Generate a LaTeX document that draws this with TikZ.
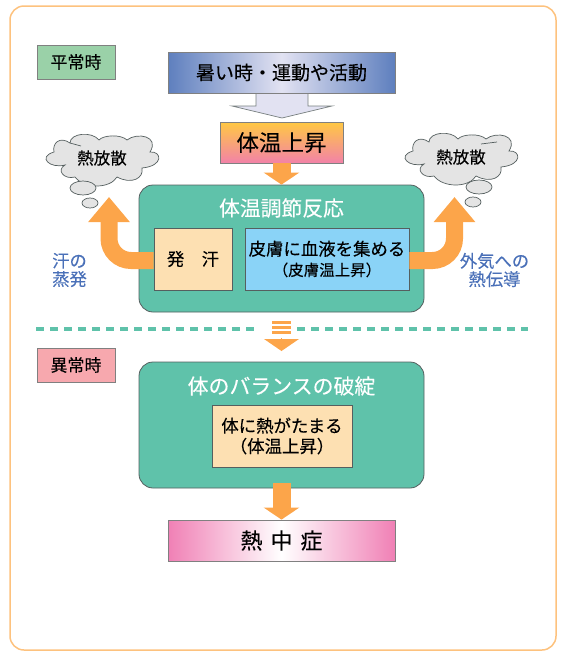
\documentclass[tikz,border=0pt]{standalone}
\usepackage{fontspec}
\setmainfont[FakeBold=0.2]{Noto Sans CJK JP}
\usetikzlibrary{arrows.meta,shapes.geometric}
\definecolor{framec}{HTML}{FDC27E}
\definecolor{panelc}{HTML}{5FC2AA}
\definecolor{creamc}{HTML}{FDE0B2}
\definecolor{skyc}{HTML}{8AD3F7}
\definecolor{flowc}{HTML}{FCA54A}
\definecolor{wordc}{HTML}{4A70B8}
\definecolor{edgec}{HTML}{555F5F}
\definecolor{cloudc}{HTML}{E4E4E4}
\definecolor{hotc}{HTML}{5E7FBE}
\definecolor{hotmidc}{HTML}{E2E2F2}
\definecolor{risetopc}{HTML}{FFC843}
\definecolor{risebotc}{HTML}{F282A8}
\definecolor{strokec}{HTML}{F080B5}
\definecolor{normalc}{HTML}{9AD1A8}
\definecolor{badc}{HTML}{F7A8AE}
\newcommand{\fsz}[1]{\fontsize{#1}{#1}\selectfont}
\tikzset{
box/.style={draw=edgec,line width=.8pt,inner sep=0,align=center},
tagbox/.style={box,draw=gray,minimum width=78pt,minimum height=34pt,font=\fsz{17}},
panel/.style={box,rounded corners=14pt,fill=panelc,minimum width=285pt},
inbox/.style={box,minimum height=62pt,font=\fsz{17.4}},
downflow/.style={draw=flowc,line width=18pt,-{Triangle[length=12pt,width=35pt]}},
sideflow/.style={draw=flowc,line width=17pt,rounded corners=22pt,-{Triangle[length=25pt,width=40pt]}},
word/.style={text=wordc,font=\fsz{17.3},align=center,inner sep=0},
blob/.style={draw=edgec,fill=cloudc,line width=.7pt},
cloudpuff/.pic={\draw[blob](-32,-17).. controls (-32,-27) and (-10,-29) .. (-3,-20).. controls (1,-25) and (19,-26) .. (25,-20).. controls (35,-28) and (58,-24) .. (48,-8).. controls (60,-9) and (62,6) .. (40,8).. controls (42,18) and (30,25) .. (15,17).. controls (8,29) and (-18,29) .. (-27,17).. controls (-38,20) and (-46,10) .. (-37,5).. controls (-52,9) and (-65,-3) .. (-48,-8).. controls (-50,-17) and (-42,-24) .. (-32,-17)--cycle;}
}
\begin{document}
\begin{tikzpicture}[x=1pt,y=-1pt]
\useasboundingbox(0,0)rectangle(570,654);
\draw[framec,line width=1.5pt,rounded corners=14pt](10,6)rectangle(556,650);
\node[tagbox,fill=normalc](normaltag)at(76,62){平常時};
\node[tagbox,fill=badc](abnormaltag)at(76,365){異常時};
% top of the flow
\draw[edgec!80,fill=hotmidc,line width=.7pt](256,90)--(256,106)--(232,106)--(282,118)--(332,106)--(308,106)--(308,90);
\node[box,draw=gray,left color=hotc,right color=hotc,middle color=hotmidc,minimum width=227pt,minimum height=41pt,font=\fsz{19}](hotbox)at(281.5,72.5){暑い時・運動や活動};
\node[box,draw=gray,top color=risetopc,bottom color=risebotc,minimum width=123pt,minimum height=41pt,font=\fsz{22.5}](riseboxa)at(281.5,142.5){体温上昇};
% normal panel
\node[panel,minimum height=127pt](normalpanel)at(281.5,248.5){};
\node[font=\fsz{20.8},text=white,inner sep=0](normaltitle)at(281.5,208){体温調節反応};
\node[inbox,fill=creamc,minimum width=78pt](sweatbox)at(193,259){発　汗};
\node[inbox,fill=skyc,minimum width=164pt](skinbox)at(327,259){皮膚に血液を集める\\[3pt]{\fsz{15.5}（皮膚温上昇）}};
\draw[downflow](riseboxa.south)--(normalpanel.north);
% clouds
\pic at(102,160){cloudpuff};\pic at(461,159){cloudpuff};
\draw[edgec,line width=.7pt](70,143)--(81,146)(481,144)--(497,142);
\node[blob,ellipse,minimum width=26pt,minimum height=14pt,inner sep=0](puffa)at(83,188){};
\node[blob,ellipse,minimum width=16pt,minimum height=10pt,inner sep=0](puffb)at(90,203){};
\node[blob,ellipse,minimum width=26pt,minimum height=14pt,inner sep=0](puffc)at(479,187){};
\node[blob,ellipse,minimum width=16pt,minimum height=10pt,inner sep=0](puffd)at(473,202){};
\node[font=\fsz{16.5},inner sep=0](heatl)at(102,158){熱放散};
\node[font=\fsz{16.5},inner sep=0](heatr)at(461,157){熱放散};
% side arrows
\coordinate(tipl)at(109,197);\coordinate(tipr)at(454.5,197);
\draw[sideflow]([yshift=-1.5pt]sweatbox.west)--(109,260.5)--(tipl);
\draw[sideflow]([yshift=-1.5pt]skinbox.east)--(454.5,260.5)--(tipr);
\node[word](sweatword)at(69.5,270){汗の\\[1pt]蒸発};
\node[word](airword)at(494.5,270){外気への\\[1pt]熱伝導};
% separator
\coordinate(dashla)at(36,329);\coordinate(dashlb)at(256,329);\coordinate(dashra)at(297,329);\coordinate(dashrb)at(528,329);
\draw[panelc,line width=4pt,dash pattern=on 8pt off 6pt](dashla)--(dashlb);
\draw[panelc,line width=4pt,dash pattern=on 8pt off 6pt](dashra)--(dashrb);
\foreach \ys in {322.5,327.5,332.5}{\fill[flowc](272,\ys-1.7)rectangle(291,\ys+1.7);}
\coordinate(stripeend)at(281.5,338);\coordinate(stripetip)at(281.5,351);
\draw[downflow,line width=0pt](stripeend)--(stripetip);
% abnormal panel
\node[panel,minimum height=126pt](badpanel)at(281.5,425){};
\node[font=\fsz{20.9},text=white,inner sep=0](badtitle)at(281.5,386){体のバランスの破綻};
\node[inbox,fill=creamc,minimum width=140pt](holdbox)at(282,436){体に熱がたまる\\[3pt]（体温上昇）};
\node[box,draw=gray,left color=strokec,right color=strokec,middle color=white,minimum width=227pt,minimum height=41pt,font=\fsz{22}](strokebox)at(281.5,540.5){熱\hspace{8pt}中\hspace{8pt}症};
\coordinate(badstart)at(281.5,483);
\draw[downflow](badstart)--(strokebox.north);
\end{tikzpicture}
\end{document}
